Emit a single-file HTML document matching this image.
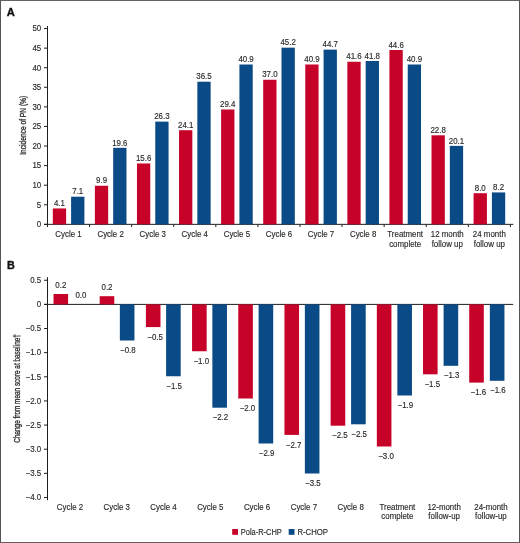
<!DOCTYPE html>
<html><head><meta charset="utf-8"><style>
html,body{margin:0;padding:0;background:#fff;}
svg{display:block;font-family:"Liberation Sans", sans-serif;will-change:transform;}

</style></head><body>
<svg width="520" height="543" viewBox="0 0 520 543">
<rect x="0" y="0" width="520" height="543" fill="#fff"/>
<line x1="0.00" y1="0.50" x2="520.00" y2="0.50" stroke="#626262" stroke-width="1"/>
<line x1="0.50" y1="0.00" x2="0.50" y2="543.00" stroke="#555" stroke-width="1"/>
<line x1="519.50" y1="0.00" x2="519.50" y2="543.00" stroke="#555" stroke-width="1"/>
<line x1="0.00" y1="542.50" x2="520.00" y2="542.50" stroke="#606060" stroke-width="1"/>
<text transform="translate(6.70,16.30) scale(1,1)" font-size="11.2" text-anchor="start" font-weight="bold" fill="#111"  stroke="#111" stroke-width="0.35">A</text>
<line x1="47.50" y1="26.00" x2="47.50" y2="227.00" stroke="#1e1e1e" stroke-width="1"/>
<line x1="44.00" y1="224.35" x2="47.50" y2="224.35" stroke="#1e1e1e" stroke-width="1"/>
<text transform="translate(41.20,227.15) scale(0.92,1)" font-size="8.6" text-anchor="end" font-weight="normal" fill="#2a2a2a" stroke="#2a2a2a" stroke-width="0.15" >0</text>
<line x1="44.00" y1="204.77" x2="47.50" y2="204.77" stroke="#1e1e1e" stroke-width="1"/>
<text transform="translate(41.20,207.57) scale(0.92,1)" font-size="8.6" text-anchor="end" font-weight="normal" fill="#2a2a2a" stroke="#2a2a2a" stroke-width="0.15" >5</text>
<line x1="44.00" y1="185.19" x2="47.50" y2="185.19" stroke="#1e1e1e" stroke-width="1"/>
<text transform="translate(41.20,187.99) scale(0.92,1)" font-size="8.6" text-anchor="end" font-weight="normal" fill="#2a2a2a" stroke="#2a2a2a" stroke-width="0.15" >10</text>
<line x1="44.00" y1="165.61" x2="47.50" y2="165.61" stroke="#1e1e1e" stroke-width="1"/>
<text transform="translate(41.20,168.41) scale(0.92,1)" font-size="8.6" text-anchor="end" font-weight="normal" fill="#2a2a2a" stroke="#2a2a2a" stroke-width="0.15" >15</text>
<line x1="44.00" y1="146.03" x2="47.50" y2="146.03" stroke="#1e1e1e" stroke-width="1"/>
<text transform="translate(41.20,148.83) scale(0.92,1)" font-size="8.6" text-anchor="end" font-weight="normal" fill="#2a2a2a" stroke="#2a2a2a" stroke-width="0.15" >20</text>
<line x1="44.00" y1="126.45" x2="47.50" y2="126.45" stroke="#1e1e1e" stroke-width="1"/>
<text transform="translate(41.20,129.25) scale(0.92,1)" font-size="8.6" text-anchor="end" font-weight="normal" fill="#2a2a2a" stroke="#2a2a2a" stroke-width="0.15" >25</text>
<line x1="44.00" y1="106.87" x2="47.50" y2="106.87" stroke="#1e1e1e" stroke-width="1"/>
<text transform="translate(41.20,109.67) scale(0.92,1)" font-size="8.6" text-anchor="end" font-weight="normal" fill="#2a2a2a" stroke="#2a2a2a" stroke-width="0.15" >30</text>
<line x1="44.00" y1="87.29" x2="47.50" y2="87.29" stroke="#1e1e1e" stroke-width="1"/>
<text transform="translate(41.20,90.09) scale(0.92,1)" font-size="8.6" text-anchor="end" font-weight="normal" fill="#2a2a2a" stroke="#2a2a2a" stroke-width="0.15" >35</text>
<line x1="44.00" y1="67.71" x2="47.50" y2="67.71" stroke="#1e1e1e" stroke-width="1"/>
<text transform="translate(41.20,70.51) scale(0.92,1)" font-size="8.6" text-anchor="end" font-weight="normal" fill="#2a2a2a" stroke="#2a2a2a" stroke-width="0.15" >40</text>
<line x1="44.00" y1="48.13" x2="47.50" y2="48.13" stroke="#1e1e1e" stroke-width="1"/>
<text transform="translate(41.20,50.93) scale(0.92,1)" font-size="8.6" text-anchor="end" font-weight="normal" fill="#2a2a2a" stroke="#2a2a2a" stroke-width="0.15" >45</text>
<line x1="44.00" y1="28.55" x2="47.50" y2="28.55" stroke="#1e1e1e" stroke-width="1"/>
<text transform="translate(41.20,31.35) scale(0.92,1)" font-size="8.6" text-anchor="end" font-weight="normal" fill="#2a2a2a" stroke="#2a2a2a" stroke-width="0.15" >50</text>
<line x1="44.00" y1="224.35" x2="513.30" y2="224.35" stroke="#1e1e1e" stroke-width="1"/>
<line x1="89.58" y1="224.35" x2="89.58" y2="227.00" stroke="#1e1e1e" stroke-width="1"/>
<line x1="131.66" y1="224.35" x2="131.66" y2="227.00" stroke="#1e1e1e" stroke-width="1"/>
<line x1="173.74" y1="224.35" x2="173.74" y2="227.00" stroke="#1e1e1e" stroke-width="1"/>
<line x1="215.82" y1="224.35" x2="215.82" y2="227.00" stroke="#1e1e1e" stroke-width="1"/>
<line x1="257.90" y1="224.35" x2="257.90" y2="227.00" stroke="#1e1e1e" stroke-width="1"/>
<line x1="299.98" y1="224.35" x2="299.98" y2="227.00" stroke="#1e1e1e" stroke-width="1"/>
<line x1="342.06" y1="224.35" x2="342.06" y2="227.00" stroke="#1e1e1e" stroke-width="1"/>
<line x1="384.14" y1="224.35" x2="384.14" y2="227.00" stroke="#1e1e1e" stroke-width="1"/>
<line x1="426.22" y1="224.35" x2="426.22" y2="227.00" stroke="#1e1e1e" stroke-width="1"/>
<line x1="468.30" y1="224.35" x2="468.30" y2="227.00" stroke="#1e1e1e" stroke-width="1"/>
<line x1="510.38" y1="224.35" x2="510.38" y2="227.00" stroke="#1e1e1e" stroke-width="1"/>
<rect x="52.80" y="208.46" width="13.30" height="15.89" fill="#c70229"/>
<rect x="71.10" y="196.72" width="13.30" height="27.63" fill="#0a4a86"/>
<text transform="translate(59.45,206.16) scale(0.92,1)" font-size="8.6" text-anchor="middle" font-weight="normal" fill="#2a2a2a" stroke="#2a2a2a" stroke-width="0.15" >4.1</text>
<text transform="translate(77.75,194.42) scale(0.92,1)" font-size="8.6" text-anchor="middle" font-weight="normal" fill="#2a2a2a" stroke="#2a2a2a" stroke-width="0.15" >7.1</text>
<text transform="translate(68.54,237.00) scale(0.92,1)" font-size="8.6" text-anchor="middle" font-weight="normal" fill="#2a2a2a" stroke="#2a2a2a" stroke-width="0.15" >Cycle 1</text>
<rect x="94.88" y="185.77" width="13.30" height="38.58" fill="#c70229"/>
<rect x="113.18" y="147.82" width="13.30" height="76.53" fill="#0a4a86"/>
<text transform="translate(101.53,183.47) scale(0.92,1)" font-size="8.6" text-anchor="middle" font-weight="normal" fill="#2a2a2a" stroke="#2a2a2a" stroke-width="0.15" >9.9</text>
<text transform="translate(119.83,145.52) scale(0.92,1)" font-size="8.6" text-anchor="middle" font-weight="normal" fill="#2a2a2a" stroke="#2a2a2a" stroke-width="0.15" >19.6</text>
<text transform="translate(110.62,237.00) scale(0.92,1)" font-size="8.6" text-anchor="middle" font-weight="normal" fill="#2a2a2a" stroke="#2a2a2a" stroke-width="0.15" >Cycle 2</text>
<rect x="136.96" y="163.47" width="13.30" height="60.88" fill="#c70229"/>
<rect x="155.26" y="121.61" width="13.30" height="102.74" fill="#0a4a86"/>
<text transform="translate(143.61,161.17) scale(0.92,1)" font-size="8.6" text-anchor="middle" font-weight="normal" fill="#2a2a2a" stroke="#2a2a2a" stroke-width="0.15" >15.6</text>
<text transform="translate(161.91,119.31) scale(0.92,1)" font-size="8.6" text-anchor="middle" font-weight="normal" fill="#2a2a2a" stroke="#2a2a2a" stroke-width="0.15" >26.3</text>
<text transform="translate(152.70,237.00) scale(0.92,1)" font-size="8.6" text-anchor="middle" font-weight="normal" fill="#2a2a2a" stroke="#2a2a2a" stroke-width="0.15" >Cycle 3</text>
<rect x="179.04" y="130.22" width="13.30" height="94.13" fill="#c70229"/>
<rect x="197.34" y="81.71" width="13.30" height="142.64" fill="#0a4a86"/>
<text transform="translate(185.69,127.92) scale(0.92,1)" font-size="8.6" text-anchor="middle" font-weight="normal" fill="#2a2a2a" stroke="#2a2a2a" stroke-width="0.15" >24.1</text>
<text transform="translate(203.99,79.41) scale(0.92,1)" font-size="8.6" text-anchor="middle" font-weight="normal" fill="#2a2a2a" stroke="#2a2a2a" stroke-width="0.15" >36.5</text>
<text transform="translate(194.78,237.00) scale(0.92,1)" font-size="8.6" text-anchor="middle" font-weight="normal" fill="#2a2a2a" stroke="#2a2a2a" stroke-width="0.15" >Cycle 4</text>
<rect x="221.12" y="109.49" width="13.30" height="114.86" fill="#c70229"/>
<rect x="239.42" y="64.50" width="13.30" height="159.85" fill="#0a4a86"/>
<text transform="translate(227.77,107.19) scale(0.92,1)" font-size="8.6" text-anchor="middle" font-weight="normal" fill="#2a2a2a" stroke="#2a2a2a" stroke-width="0.15" >29.4</text>
<text transform="translate(246.07,62.20) scale(0.92,1)" font-size="8.6" text-anchor="middle" font-weight="normal" fill="#2a2a2a" stroke="#2a2a2a" stroke-width="0.15" >40.9</text>
<text transform="translate(236.86,237.00) scale(0.92,1)" font-size="8.6" text-anchor="middle" font-weight="normal" fill="#2a2a2a" stroke="#2a2a2a" stroke-width="0.15" >Cycle 5</text>
<rect x="263.20" y="79.76" width="13.30" height="144.59" fill="#c70229"/>
<rect x="281.50" y="47.68" width="13.30" height="176.67" fill="#0a4a86"/>
<text transform="translate(269.85,77.46) scale(0.92,1)" font-size="8.6" text-anchor="middle" font-weight="normal" fill="#2a2a2a" stroke="#2a2a2a" stroke-width="0.15" >37.0</text>
<text transform="translate(288.15,45.38) scale(0.92,1)" font-size="8.6" text-anchor="middle" font-weight="normal" fill="#2a2a2a" stroke="#2a2a2a" stroke-width="0.15" >45.2</text>
<text transform="translate(278.94,237.00) scale(0.92,1)" font-size="8.6" text-anchor="middle" font-weight="normal" fill="#2a2a2a" stroke="#2a2a2a" stroke-width="0.15" >Cycle 6</text>
<rect x="305.28" y="64.50" width="13.30" height="159.85" fill="#c70229"/>
<rect x="323.58" y="49.63" width="13.30" height="174.72" fill="#0a4a86"/>
<text transform="translate(311.93,62.20) scale(0.92,1)" font-size="8.6" text-anchor="middle" font-weight="normal" fill="#2a2a2a" stroke="#2a2a2a" stroke-width="0.15" >40.9</text>
<text transform="translate(330.23,47.33) scale(0.92,1)" font-size="8.6" text-anchor="middle" font-weight="normal" fill="#2a2a2a" stroke="#2a2a2a" stroke-width="0.15" >44.7</text>
<text transform="translate(321.02,237.00) scale(0.92,1)" font-size="8.6" text-anchor="middle" font-weight="normal" fill="#2a2a2a" stroke="#2a2a2a" stroke-width="0.15" >Cycle 7</text>
<rect x="347.36" y="61.76" width="13.30" height="162.59" fill="#c70229"/>
<rect x="365.66" y="60.98" width="13.30" height="163.37" fill="#0a4a86"/>
<text transform="translate(354.01,59.46) scale(0.92,1)" font-size="8.6" text-anchor="middle" font-weight="normal" fill="#2a2a2a" stroke="#2a2a2a" stroke-width="0.15" >41.6</text>
<text transform="translate(372.31,58.68) scale(0.92,1)" font-size="8.6" text-anchor="middle" font-weight="normal" fill="#2a2a2a" stroke="#2a2a2a" stroke-width="0.15" >41.8</text>
<text transform="translate(363.10,237.00) scale(0.92,1)" font-size="8.6" text-anchor="middle" font-weight="normal" fill="#2a2a2a" stroke="#2a2a2a" stroke-width="0.15" >Cycle 8</text>
<rect x="389.44" y="50.02" width="13.30" height="174.33" fill="#c70229"/>
<rect x="407.74" y="64.50" width="13.30" height="159.85" fill="#0a4a86"/>
<text transform="translate(396.09,47.72) scale(0.92,1)" font-size="8.6" text-anchor="middle" font-weight="normal" fill="#2a2a2a" stroke="#2a2a2a" stroke-width="0.15" >44.6</text>
<text transform="translate(414.39,62.20) scale(0.92,1)" font-size="8.6" text-anchor="middle" font-weight="normal" fill="#2a2a2a" stroke="#2a2a2a" stroke-width="0.15" >40.9</text>
<text transform="translate(405.18,237.00) scale(0.92,1)" font-size="8.6" text-anchor="middle" font-weight="normal" fill="#2a2a2a" stroke="#2a2a2a" stroke-width="0.15" >Treatment</text>
<text transform="translate(405.18,246.50) scale(0.92,1)" font-size="8.6" text-anchor="middle" font-weight="normal" fill="#2a2a2a" stroke="#2a2a2a" stroke-width="0.15" >complete</text>
<rect x="431.52" y="135.31" width="13.30" height="89.04" fill="#c70229"/>
<rect x="449.82" y="145.87" width="13.30" height="78.48" fill="#0a4a86"/>
<text transform="translate(438.17,133.01) scale(0.92,1)" font-size="8.6" text-anchor="middle" font-weight="normal" fill="#2a2a2a" stroke="#2a2a2a" stroke-width="0.15" >22.8</text>
<text transform="translate(456.47,143.57) scale(0.92,1)" font-size="8.6" text-anchor="middle" font-weight="normal" fill="#2a2a2a" stroke="#2a2a2a" stroke-width="0.15" >20.1</text>
<text transform="translate(447.26,237.00) scale(0.92,1)" font-size="8.6" text-anchor="middle" font-weight="normal" fill="#2a2a2a" stroke="#2a2a2a" stroke-width="0.15" >12 month</text>
<text transform="translate(447.26,246.50) scale(0.92,1)" font-size="8.6" text-anchor="middle" font-weight="normal" fill="#2a2a2a" stroke="#2a2a2a" stroke-width="0.15" >follow up</text>
<rect x="473.60" y="193.20" width="13.30" height="31.15" fill="#c70229"/>
<rect x="491.90" y="192.42" width="13.30" height="31.93" fill="#0a4a86"/>
<text transform="translate(480.25,190.90) scale(0.92,1)" font-size="8.6" text-anchor="middle" font-weight="normal" fill="#2a2a2a" stroke="#2a2a2a" stroke-width="0.15" >8.0</text>
<text transform="translate(498.55,190.12) scale(0.92,1)" font-size="8.6" text-anchor="middle" font-weight="normal" fill="#2a2a2a" stroke="#2a2a2a" stroke-width="0.15" >8.2</text>
<text transform="translate(489.34,237.00) scale(0.92,1)" font-size="8.6" text-anchor="middle" font-weight="normal" fill="#2a2a2a" stroke="#2a2a2a" stroke-width="0.15" >24 month</text>
<text transform="translate(489.34,246.50) scale(0.92,1)" font-size="8.6" text-anchor="middle" font-weight="normal" fill="#2a2a2a" stroke="#2a2a2a" stroke-width="0.15" >follow up</text>
<text transform="translate(26.4,125.3) rotate(-90)" font-size="8.6" text-anchor="middle" fill="#2a2a2a" stroke="#2a2a2a" stroke-width="0.3" textLength="59" lengthAdjust="spacingAndGlyphs">Incidence of PN (%)</text>
<text transform="translate(6.90,269.00) scale(1,1)" font-size="10.8" text-anchor="start" font-weight="bold" fill="#111"  stroke="#111" stroke-width="0.35">B</text>
<line x1="47.50" y1="277.20" x2="47.50" y2="500.20" stroke="#1e1e1e" stroke-width="1"/>
<line x1="44.00" y1="280.26" x2="47.50" y2="280.26" stroke="#1e1e1e" stroke-width="1"/>
<text transform="translate(41.20,283.06) scale(0.92,1)" font-size="8.6" text-anchor="end" font-weight="normal" fill="#2a2a2a" stroke="#2a2a2a" stroke-width="0.15" >0.5</text>
<line x1="44.00" y1="304.40" x2="47.50" y2="304.40" stroke="#1e1e1e" stroke-width="1"/>
<text transform="translate(41.20,307.20) scale(0.92,1)" font-size="8.6" text-anchor="end" font-weight="normal" fill="#2a2a2a" stroke="#2a2a2a" stroke-width="0.15" >0</text>
<line x1="44.00" y1="328.53" x2="47.50" y2="328.53" stroke="#1e1e1e" stroke-width="1"/>
<text transform="translate(41.20,331.33) scale(0.92,1)" font-size="8.6" text-anchor="end" font-weight="normal" fill="#2a2a2a" stroke="#2a2a2a" stroke-width="0.15" >−0.5</text>
<line x1="44.00" y1="352.67" x2="47.50" y2="352.67" stroke="#1e1e1e" stroke-width="1"/>
<text transform="translate(41.20,355.47) scale(0.92,1)" font-size="8.6" text-anchor="end" font-weight="normal" fill="#2a2a2a" stroke="#2a2a2a" stroke-width="0.15" >−1.0</text>
<line x1="44.00" y1="376.80" x2="47.50" y2="376.80" stroke="#1e1e1e" stroke-width="1"/>
<text transform="translate(41.20,379.60) scale(0.92,1)" font-size="8.6" text-anchor="end" font-weight="normal" fill="#2a2a2a" stroke="#2a2a2a" stroke-width="0.15" >−1.5</text>
<line x1="44.00" y1="400.94" x2="47.50" y2="400.94" stroke="#1e1e1e" stroke-width="1"/>
<text transform="translate(41.20,403.74) scale(0.92,1)" font-size="8.6" text-anchor="end" font-weight="normal" fill="#2a2a2a" stroke="#2a2a2a" stroke-width="0.15" >−2.0</text>
<line x1="44.00" y1="425.07" x2="47.50" y2="425.07" stroke="#1e1e1e" stroke-width="1"/>
<text transform="translate(41.20,427.88) scale(0.92,1)" font-size="8.6" text-anchor="end" font-weight="normal" fill="#2a2a2a" stroke="#2a2a2a" stroke-width="0.15" >−2.5</text>
<line x1="44.00" y1="449.21" x2="47.50" y2="449.21" stroke="#1e1e1e" stroke-width="1"/>
<text transform="translate(41.20,452.01) scale(0.92,1)" font-size="8.6" text-anchor="end" font-weight="normal" fill="#2a2a2a" stroke="#2a2a2a" stroke-width="0.15" >−3.0</text>
<line x1="44.00" y1="473.35" x2="47.50" y2="473.35" stroke="#1e1e1e" stroke-width="1"/>
<text transform="translate(41.20,476.15) scale(0.92,1)" font-size="8.6" text-anchor="end" font-weight="normal" fill="#2a2a2a" stroke="#2a2a2a" stroke-width="0.15" >−3.5</text>
<line x1="44.00" y1="497.48" x2="47.50" y2="497.48" stroke="#1e1e1e" stroke-width="1"/>
<text transform="translate(41.20,500.28) scale(0.92,1)" font-size="8.6" text-anchor="end" font-weight="normal" fill="#2a2a2a" stroke="#2a2a2a" stroke-width="0.15" >−4.0</text>
<line x1="44.00" y1="304.40" x2="513.20" y2="304.40" stroke="#1e1e1e" stroke-width="1"/>
<rect x="53.50" y="294.00" width="14.60" height="10.40" fill="#c70229"/>
<text transform="translate(60.80,287.80) scale(0.92,1)" font-size="8.6" text-anchor="middle" font-weight="normal" fill="#2a2a2a" stroke="#2a2a2a" stroke-width="0.15" >0.2</text>
<text transform="translate(80.90,298.10) scale(0.92,1)" font-size="8.6" text-anchor="middle" font-weight="normal" fill="#2a2a2a" stroke="#2a2a2a" stroke-width="0.15" >0.0</text>
<text transform="translate(70.00,510.20) scale(0.92,1)" font-size="8.6" text-anchor="middle" font-weight="normal" fill="#2a2a2a" stroke="#2a2a2a" stroke-width="0.15" >Cycle 2</text>
<rect x="99.69" y="296.20" width="14.60" height="8.20" fill="#c70229"/>
<text transform="translate(106.99,290.00) scale(0.92,1)" font-size="8.6" text-anchor="middle" font-weight="normal" fill="#2a2a2a" stroke="#2a2a2a" stroke-width="0.15" >0.2</text>
<rect x="119.85" y="304.40" width="14.60" height="36.10" fill="#0a4a86"/>
<text transform="translate(127.85,353.10) scale(0.92,1)" font-size="8.6" text-anchor="middle" font-weight="normal" fill="#2a2a2a" stroke="#2a2a2a" stroke-width="0.15" >−0.8</text>
<text transform="translate(116.77,510.20) scale(0.92,1)" font-size="8.6" text-anchor="middle" font-weight="normal" fill="#2a2a2a" stroke="#2a2a2a" stroke-width="0.15" >Cycle 3</text>
<rect x="145.88" y="304.40" width="14.60" height="22.69" fill="#c70229"/>
<text transform="translate(155.08,339.69) scale(0.92,1)" font-size="8.6" text-anchor="middle" font-weight="normal" fill="#2a2a2a" stroke="#2a2a2a" stroke-width="0.15" >−0.5</text>
<rect x="166.10" y="304.40" width="14.60" height="71.85" fill="#0a4a86"/>
<text transform="translate(174.10,388.85) scale(0.92,1)" font-size="8.6" text-anchor="middle" font-weight="normal" fill="#2a2a2a" stroke="#2a2a2a" stroke-width="0.15" >−1.5</text>
<text transform="translate(163.54,510.20) scale(0.92,1)" font-size="8.6" text-anchor="middle" font-weight="normal" fill="#2a2a2a" stroke="#2a2a2a" stroke-width="0.15" >Cycle 4</text>
<rect x="192.07" y="304.40" width="14.60" height="46.85" fill="#c70229"/>
<text transform="translate(201.27,363.85) scale(0.92,1)" font-size="8.6" text-anchor="middle" font-weight="normal" fill="#2a2a2a" stroke="#2a2a2a" stroke-width="0.15" >−1.0</text>
<rect x="212.35" y="304.40" width="14.60" height="103.30" fill="#0a4a86"/>
<text transform="translate(220.35,420.30) scale(0.92,1)" font-size="8.6" text-anchor="middle" font-weight="normal" fill="#2a2a2a" stroke="#2a2a2a" stroke-width="0.15" >−2.2</text>
<text transform="translate(210.31,510.20) scale(0.92,1)" font-size="8.6" text-anchor="middle" font-weight="normal" fill="#2a2a2a" stroke="#2a2a2a" stroke-width="0.15" >Cycle 5</text>
<rect x="238.26" y="304.40" width="14.60" height="94.10" fill="#c70229"/>
<text transform="translate(247.46,411.10) scale(0.92,1)" font-size="8.6" text-anchor="middle" font-weight="normal" fill="#2a2a2a" stroke="#2a2a2a" stroke-width="0.15" >−2.0</text>
<rect x="258.60" y="304.40" width="14.60" height="139.10" fill="#0a4a86"/>
<text transform="translate(266.60,456.10) scale(0.92,1)" font-size="8.6" text-anchor="middle" font-weight="normal" fill="#2a2a2a" stroke="#2a2a2a" stroke-width="0.15" >−2.9</text>
<text transform="translate(257.08,510.20) scale(0.92,1)" font-size="8.6" text-anchor="middle" font-weight="normal" fill="#2a2a2a" stroke="#2a2a2a" stroke-width="0.15" >Cycle 6</text>
<rect x="284.45" y="304.40" width="14.60" height="130.50" fill="#c70229"/>
<text transform="translate(293.65,447.50) scale(0.92,1)" font-size="8.6" text-anchor="middle" font-weight="normal" fill="#2a2a2a" stroke="#2a2a2a" stroke-width="0.15" >−2.7</text>
<rect x="304.85" y="304.40" width="14.60" height="169.10" fill="#0a4a86"/>
<text transform="translate(312.85,486.10) scale(0.92,1)" font-size="8.6" text-anchor="middle" font-weight="normal" fill="#2a2a2a" stroke="#2a2a2a" stroke-width="0.15" >−3.5</text>
<text transform="translate(303.85,510.20) scale(0.92,1)" font-size="8.6" text-anchor="middle" font-weight="normal" fill="#2a2a2a" stroke="#2a2a2a" stroke-width="0.15" >Cycle 7</text>
<rect x="330.64" y="304.40" width="14.60" height="121.30" fill="#c70229"/>
<text transform="translate(339.84,438.30) scale(0.92,1)" font-size="8.6" text-anchor="middle" font-weight="normal" fill="#2a2a2a" stroke="#2a2a2a" stroke-width="0.15" >−2.5</text>
<rect x="351.10" y="304.40" width="14.60" height="119.90" fill="#0a4a86"/>
<text transform="translate(359.10,436.90) scale(0.92,1)" font-size="8.6" text-anchor="middle" font-weight="normal" fill="#2a2a2a" stroke="#2a2a2a" stroke-width="0.15" >−2.5</text>
<text transform="translate(350.62,510.20) scale(0.92,1)" font-size="8.6" text-anchor="middle" font-weight="normal" fill="#2a2a2a" stroke="#2a2a2a" stroke-width="0.15" >Cycle 8</text>
<rect x="376.83" y="304.40" width="14.60" height="142.10" fill="#c70229"/>
<text transform="translate(386.03,459.10) scale(0.92,1)" font-size="8.6" text-anchor="middle" font-weight="normal" fill="#2a2a2a" stroke="#2a2a2a" stroke-width="0.15" >−3.0</text>
<rect x="397.35" y="304.40" width="14.60" height="91.10" fill="#0a4a86"/>
<text transform="translate(405.35,408.10) scale(0.92,1)" font-size="8.6" text-anchor="middle" font-weight="normal" fill="#2a2a2a" stroke="#2a2a2a" stroke-width="0.15" >−1.9</text>
<text transform="translate(397.39,510.20) scale(0.92,1)" font-size="8.6" text-anchor="middle" font-weight="normal" fill="#2a2a2a" stroke="#2a2a2a" stroke-width="0.15" >Treatment</text>
<text transform="translate(397.39,519.40) scale(0.92,1)" font-size="8.6" text-anchor="middle" font-weight="normal" fill="#2a2a2a" stroke="#2a2a2a" stroke-width="0.15" >complete</text>
<rect x="423.02" y="304.40" width="14.60" height="69.90" fill="#c70229"/>
<text transform="translate(432.22,386.90) scale(0.92,1)" font-size="8.6" text-anchor="middle" font-weight="normal" fill="#2a2a2a" stroke="#2a2a2a" stroke-width="0.15" >−1.5</text>
<rect x="443.60" y="304.40" width="14.60" height="61.40" fill="#0a4a86"/>
<text transform="translate(451.60,378.40) scale(0.92,1)" font-size="8.6" text-anchor="middle" font-weight="normal" fill="#2a2a2a" stroke="#2a2a2a" stroke-width="0.15" >−1.3</text>
<text transform="translate(444.16,510.20) scale(0.92,1)" font-size="8.6" text-anchor="middle" font-weight="normal" fill="#2a2a2a" stroke="#2a2a2a" stroke-width="0.15" >12-month</text>
<text transform="translate(444.16,519.40) scale(0.92,1)" font-size="8.6" text-anchor="middle" font-weight="normal" fill="#2a2a2a" stroke="#2a2a2a" stroke-width="0.15" >follow-up</text>
<rect x="469.21" y="304.40" width="14.60" height="78.20" fill="#c70229"/>
<text transform="translate(478.41,395.20) scale(0.92,1)" font-size="8.6" text-anchor="middle" font-weight="normal" fill="#2a2a2a" stroke="#2a2a2a" stroke-width="0.15" >−1.6</text>
<rect x="489.85" y="304.40" width="14.60" height="76.40" fill="#0a4a86"/>
<text transform="translate(497.85,393.40) scale(0.92,1)" font-size="8.6" text-anchor="middle" font-weight="normal" fill="#2a2a2a" stroke="#2a2a2a" stroke-width="0.15" >−1.6</text>
<text transform="translate(490.93,510.20) scale(0.92,1)" font-size="8.6" text-anchor="middle" font-weight="normal" fill="#2a2a2a" stroke="#2a2a2a" stroke-width="0.15" >24-month</text>
<text transform="translate(490.93,519.40) scale(0.92,1)" font-size="8.6" text-anchor="middle" font-weight="normal" fill="#2a2a2a" stroke="#2a2a2a" stroke-width="0.15" >follow-up</text>
<text transform="translate(20.3,388.4) rotate(-90)" font-size="8.6" text-anchor="middle" fill="#2a2a2a" stroke="#2a2a2a" stroke-width="0.3" textLength="108.6" lengthAdjust="spacingAndGlyphs">Change from mean score at baseline†</text>
<rect x="232.20" y="529.00" width="5.80" height="5.80" fill="#c70229"/>
<text transform="translate(240.80,534.50) scale(1,1)" font-size="8.6" text-anchor="start" font-weight="normal" fill="#2a2a2a" stroke="#2a2a2a" stroke-width="0.15" textLength="41" lengthAdjust="spacingAndGlyphs">Pola-R-CHP</text>
<rect x="288.70" y="529.00" width="5.80" height="5.80" fill="#0a4a86"/>
<text transform="translate(297.40,534.50) scale(1,1)" font-size="8.6" text-anchor="start" font-weight="normal" fill="#2a2a2a" stroke="#2a2a2a" stroke-width="0.15" textLength="30.6" lengthAdjust="spacingAndGlyphs">R-CHOP</text>
</svg>
</body></html>
